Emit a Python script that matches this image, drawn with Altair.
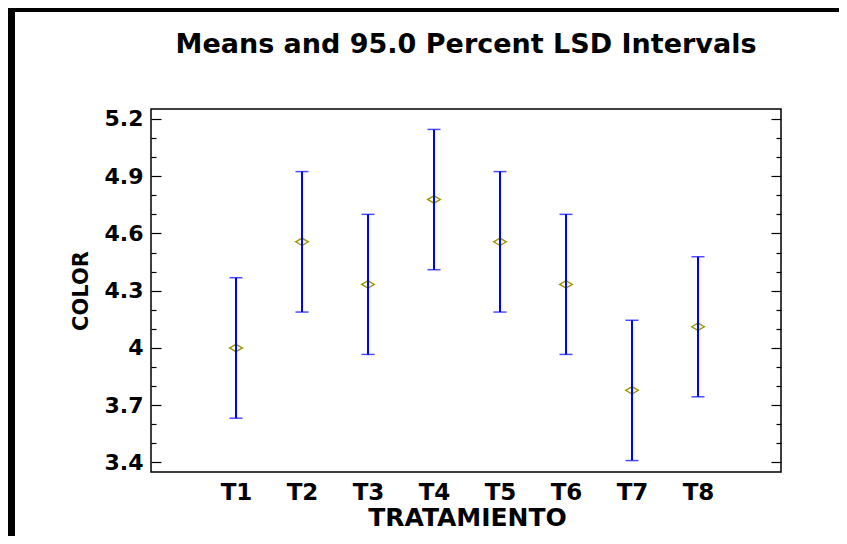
import altair as alt
import pandas as pd

# ---- data ----
treatments = ["T1", "T2", "T3", "T4", "T5", "T6", "T7", "T8"]
means = [4.000, 4.556, 4.333, 4.778, 4.556, 4.333, 3.778, 4.111]
lower = [3.632, 4.188, 3.966, 4.410, 4.188, 3.966, 3.410, 3.744]
upper = [4.368, 4.924, 4.700, 5.145, 4.924, 4.700, 4.145, 4.478]
major_ticks = [3.4, 3.7, 4.0, 4.3, 4.6, 4.9, 5.2]
minor_ticks = [3.5, 3.6, 3.8, 3.9, 4.1, 4.2, 4.4, 4.5, 4.7, 4.8, 5.0, 5.1]
y_domain = [3.35, 5.252]

df = pd.DataFrame({"trat": treatments, "mean": means, "lo": lower, "hi": upper})

FONT = "DejaVu Sans"

x_enc = alt.X(
    "trat:N",
    scale=alt.Scale(type="point", domain=treatments, padding=0, range=[85, 547]),
    axis=alt.Axis(
        title="TRATAMIENTO", labelAngle=0, ticks=False, tickSize=0, domain=False,
        labelFont=FONT, labelFontSize=23, labelFontWeight="bold", labelColor="black",
        labelPadding=9,
        titleFont=FONT, titleFontSize=25, titleFontWeight="bold", titleColor="black",
        titlePadding=1,
    ),
)
y_scale = alt.Scale(domain=y_domain, nice=False, zero=False)


def tick_axis(orient, values, size, labels=False, title=None):
    kw = dict(
        title=title, orient=orient, values=values, domain=False, grid=False,
        tickColor="black", tickWidth=1.2, tickSize=size, offset=-size,
        labels=labels, labelOverlap=False,
    )
    if labels:
        kw.update(
            labelPadding=8, format="~g",
            labelFont=FONT, labelFontSize=22, labelFontWeight="bold", labelColor="black",
            titleFont=FONT, titleFontSize=21, titleFontWeight="bold", titleColor="black",
            titlePadding=13,
        )
    return alt.Axis(**kw)


border = alt.Chart(alt.Data(values=[{"k": 1}])).mark_rect(
    filled=False, stroke="black", strokeWidth=8
).encode(x=alt.value(-140), x2=alt.value(720), y=alt.value(-101), y2=alt.value(460))

points = alt.Chart(df).mark_point(
    shape="M-1,0L0,-0.58L1,0L0,0.58Z", size=160, filled=False,
    color="#999900", strokeWidth=1.4, opacity=1,
).encode(x=x_enc, y=alt.Y("mean:Q", scale=y_scale,
                          axis=tick_axis("left", major_ticks, 10, labels=True, title="COLOR")))

rules = alt.Chart(df).mark_rule(color="#0000ff", strokeWidth=2).encode(
    x=x_enc, y=alt.Y("lo:Q", scale=y_scale, axis=tick_axis("right", major_ticks, 10)), y2="hi:Q"
)

cap_hi = alt.Chart(df).mark_tick(color="#0000ff", thickness=1.5, size=13, opacity=0.7).encode(
    x=x_enc, y=alt.Y("hi:Q", scale=y_scale, axis=tick_axis("left", minor_ticks, 5))
)
cap_lo = alt.Chart(df).mark_tick(color="#0000ff", thickness=1.5, size=13, opacity=0.7).encode(
    x=x_enc, y=alt.Y("lo:Q", scale=y_scale, axis=tick_axis("right", minor_ticks, 5))
)

chart = alt.layer(border, points, rules, cap_hi, cap_lo).resolve_scale(
    y="shared"
).resolve_axis(y="independent").properties(
    width=630, height=363,
    title=alt.TitleParams(
        text="Means and 95.0 Percent LSD Intervals", font=FONT, fontSize=27,
        fontWeight="bold", color="black", anchor="middle", frame="group",
        offset=-76, baseline="alphabetic",
    ),
    autosize=alt.AutoSizeParams(type="none"),
    padding={"left": 143, "top": 101, "right": 58, "bottom": 64},
).configure(background="white").configure_view(stroke="black", strokeWidth=1.5)

chart.save("out.html", embed_options={"renderer": "svg", "actions": False})
